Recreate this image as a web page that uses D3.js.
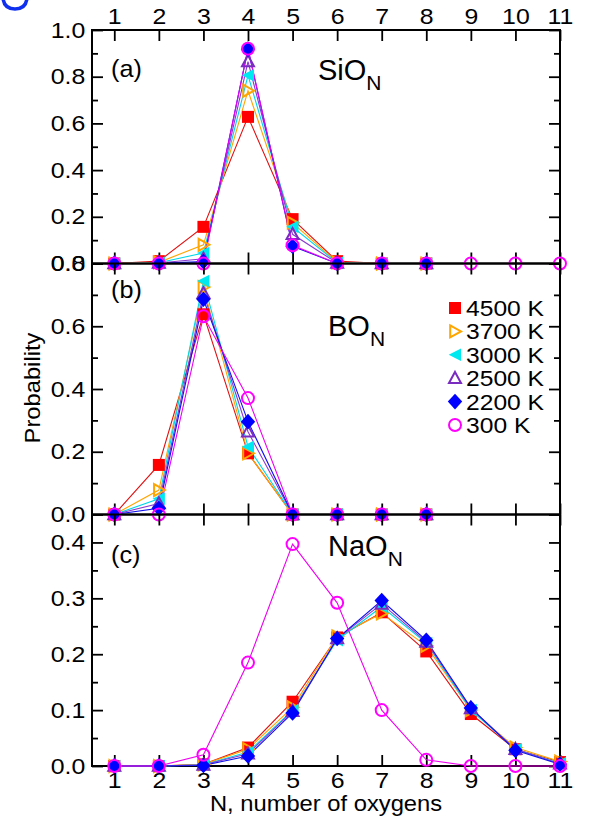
<!DOCTYPE html>
<html>
<head>
<meta charset="utf-8">
<script src="https://cdn.jsdelivr.net/npm/d3@7"></script>
<style>
  body { margin: 0; background: #fff; }
  svg text { font-family: "Liberation Sans", Arial, Helvetica, sans-serif; fill: #000; }
</style>
</head>
<body>
<div id="chart-container"></div>
<script>
// temperatures (legend order = draw order)
const temps = ["4500 K", "3700 K", "3000 K", "2500 K", "2200 K", "300 K"];
const nTicks = [1, 2, 3, 4, 5, 6, 7, 8, 9, 10, 11];

// (a) SiO_N
const si4500 = [0, 0.01, 0.157, 0.628, 0.19, 0.01, 0, 0];
const si3700 = [0, 0.005, 0.08, 0.74, 0.174, 0.005, 0, 0];
const si3000 = [0, 0.003, 0.045, 0.806, 0.157, 0.003, 0, 0];
const si2500 = [0, 0.002, 0.02, 0.865, 0.125, 0.002, 0, 0];
const si2200 = [0, 0.001, 0.008, 0.918, 0.074, 0, 0, 0];
const si300  = [0, 0, 0, 0.92, 0.078, 0, 0, 0, 0, 0, 0];

// (b) BO_N
const bo4500 = [0, 0.158, 0.638, 0.195, 0, 0, 0, 0];
const bo3700 = [0, 0.078, 0.725, 0.195, 0, 0, 0, 0];
const bo3000 = [0, 0.05, 0.744, 0.216, 0, 0, 0, 0];
const bo2500 = [0, 0.035, 0.705, 0.264, 0, 0, 0, 0];
const bo2200 = [0, 0.02, 0.686, 0.296, 0, 0, 0, 0];
const bo300  = [0, 0, 0.632, 0.371, 0, 0, 0, 0];

// (c) NaO_N
const na4500 = [0, 0, 0.003, 0.033, 0.115, 0.23, 0.275, 0.205, 0.093, 0.03, 0.007];
const na3700 = [0, 0, 0.003, 0.03, 0.105, 0.232, 0.273, 0.215, 0.1, 0.033, 0.008];
const na3000 = [0, 0, 0.002, 0.025, 0.1, 0.225, 0.285, 0.22, 0.1, 0.03, 0.005];
const na2500 = [0, 0, 0.002, 0.022, 0.098, 0.228, 0.29, 0.222, 0.103, 0.03, 0.004];
const na2200 = [0, 0, 0.001, 0.018, 0.095, 0.228, 0.296, 0.225, 0.104, 0.028, 0.003];
const na300  = [0, 0, 0.02, 0.185, 0.397, 0.292, 0.1, 0.011, 0, 0, 0];

const ticksA = [0, 0.2, 0.4, 0.6, 0.8, 1.0];
const minorA = [0.1, 0.3, 0.5, 0.7, 0.9];
const ticksB = [0, 0.2, 0.4, 0.6, 0.8];
const minorB = [0.1, 0.3, 0.5, 0.7];
const ticksC = [0, 0.1, 0.2, 0.3, 0.4];
const minorC = [0.05, 0.15, 0.25, 0.35];

const colors = ["#ff0000", "#ffa500", "#00e8f0", "#7a2cc0", "#0000ff", "#ff00ff"];
const lineColors = ["#e01010", "#ffa500", "#00d8e8", "#8a3ad0", "#1010ee", "#ee00ee"];

const width = 589, height = 819;
const svg = d3.select("#chart-container").append("svg")
  .attr("width", width)
  .attr("height", height);

// stray blue mark in the corner of the scan
svg.append("path")
  .attr("d", "M3,-2 Q4,9 15,9 Q26,9 27,-2")
  .attr("fill", "none")
  .attr("stroke", "#1030f0")
  .attr("stroke-width", 3.5);

const x = d3.scaleLinear().domain([0.5, 11]).range([92, 560]);

const panels = [
  { tag: "(a)", name: "SiO", series: [si4500, si3700, si3000, si2500, si2200, si300],
    y: d3.scaleLinear().domain([0, 1]).range([263.5, 30]), major: ticksA, minor: minorA,
    tagY: 77, nameX: 318, nameY: 80 },
  { tag: "(b)", name: "BO", series: [bo4500, bo3700, bo3000, bo2500, bo2200, bo300],
    y: d3.scaleLinear().domain([0, 0.8]).range([514.5, 263.5]), major: ticksB, minor: minorB,
    tagY: 298, nameX: 328, nameY: 336 },
  { tag: "(c)", name: "NaO", series: [na4500, na3700, na3000, na2500, na2200, na300],
    y: d3.scaleLinear().domain([0, 0.45]).range([766, 514.5]), major: ticksC, minor: minorC,
    tagY: 563, nameX: 328, nameY: 556 }
];

// marker shapes
function marker(g, i, s) {
  const c = colors[i];
  if (i === 0) {
    g.append("rect").attr("x", -s).attr("y", -s).attr("width", 2 * s).attr("height", 2 * s).attr("fill", c);
  } else if (i === 1) {
    g.append("path").attr("d", `M${-s * 0.8},${-s} L${s},0 L${-s * 0.8},${s} Z`)
      .attr("fill", "none").attr("stroke", c).attr("stroke-width", 2);
  } else if (i === 2) {
    g.append("path").attr("d", `M${s},${-s * 1.05} L${-s * 1.05},0 L${s},${s * 1.05} Z`).attr("fill", c);
  } else if (i === 3) {
    g.append("path").attr("d", `M0,${-s * 1.05} L${s},${s * 0.8} L${-s},${s * 0.8} Z`)
      .attr("fill", "none").attr("stroke", c).attr("stroke-width", 2);
  } else if (i === 4) {
    g.append("path").attr("d", `M0,${-s * 1.3} L${s * 1.2},0 L0,${s * 1.3} L${-s * 1.2},0 Z`).attr("fill", c);
  } else {
    g.append("circle").attr("r", s).attr("fill", "none").attr("stroke", c).attr("stroke-width", 2);
  }
}

// text placed with a slight horizontal stretch, like the scanned figure
function label(xp, yp, size, str, sx, anchor) {
  return svg.append("text")
    .attr("transform", `translate(${xp},${yp}) scale(${sx},1)`)
    .attr("text-anchor", anchor || "start")
    .attr("font-size", size)
    .text(str);
}

const line = d3.line();

panels.forEach((p, pi) => {
  const y = p.y;
  const top = y.range()[1], bot = y.range()[0];

  // left axis with labels
  svg.append("g").attr("transform", `translate(${x.range()[0]},0)`)
    .call(d3.axisLeft(y).tickValues(p.major).tickFormat(d3.format(".1f")).tickSize(-11).tickSizeOuter(0).tickPadding(6))
    .call(g => g.select(".domain").remove());
  svg.append("g").attr("transform", `translate(${x.range()[0]},0)`)
    .call(d3.axisLeft(y).tickValues(p.minor).tickFormat("").tickSize(-6).tickSizeOuter(0))
    .call(g => g.select(".domain").remove());
  // right axis
  svg.append("g").attr("transform", `translate(${x.range()[1]},0)`)
    .call(d3.axisRight(y).tickValues(p.major).tickFormat("").tickSize(-11).tickSizeOuter(0))
    .call(g => g.select(".domain").remove());
  svg.append("g").attr("transform", `translate(${x.range()[1]},0)`)
    .call(d3.axisRight(y).tickValues(p.minor).tickFormat("").tickSize(-6).tickSizeOuter(0))
    .call(g => g.select(".domain").remove());

  // top and bottom x ticks (inward)
  svg.append("g").attr("transform", `translate(0,${top})`)
    .call(d3.axisTop(x).tickValues(nTicks).tickFormat(pi === 0 ? d3.format("d") : "").tickSize(-11).tickSizeOuter(0).tickPadding(6))
    .call(g => g.select(".domain").remove());
  svg.append("g").attr("transform", `translate(0,${bot})`)
    .call(d3.axisBottom(x).tickValues(nTicks).tickFormat(pi === 2 ? d3.format("d") : "").tickSize(-11).tickSizeOuter(0).tickPadding(6))
    .call(g => g.select(".domain").remove());

  // frame
  svg.append("rect")
    .attr("x", x.range()[0]).attr("y", top)
    .attr("width", x.range()[1] - x.range()[0]).attr("height", bot - top)
    .attr("fill", "none").attr("stroke", "#000").attr("stroke-width", 2);

  // series
  p.series.forEach((vals, si) => {
    const pts = vals.map((v, k) => [x(nTicks[k]), y(v)]);
    svg.append("path").attr("d", line(pts))
      .attr("fill", "none").attr("stroke", lineColors[si]).attr("stroke-width", 1.1);
  });
  p.series.forEach((vals, si) => {
    vals.forEach((v, k) => {
      const g = svg.append("g").attr("transform", `translate(${x(nTicks[k])},${y(v)})`);
      marker(g, si, 6);
    });
  });

  // panel tag and species name
  label(111, p.tagY, 24, p.tag, 1.05);
  const t = svg.append("text").attr("x", p.nameX).attr("y", p.nameY).attr("font-size", 29);
  t.append("tspan").text(p.name);
  t.append("tspan").attr("font-size", 21).attr("dy", 10).text("N");
});

svg.selectAll(".tick text")
  .attr("font-size", 22)
  .attr("font-family", "'Liberation Sans', Arial, sans-serif")
  .attr("fill", "#000")
  .attr("transform", "scale(1.13,1)");
svg.selectAll(".tick line").attr("stroke-width", 1.8);

// legend
const legend = svg.append("g").attr("transform", "translate(455,308)");
temps.forEach((t, i) => {
  const g = legend.append("g").attr("transform", `translate(0,${i * 23.4})`);
  marker(g, i, 6);
  g.append("text").attr("transform", "translate(11,8) scale(1.12,1)").attr("font-size", 22).text(t);
});

// axis titles
svg.append("text")
  .attr("transform", "translate(40,388) rotate(-90) scale(1.08,1)")
  .attr("text-anchor", "middle")
  .attr("font-size", 22)
  .text("Probability");
label(326, 811, 22, "N, number of oxygens", 1.08, "middle");
</script>
</body>
</html>
